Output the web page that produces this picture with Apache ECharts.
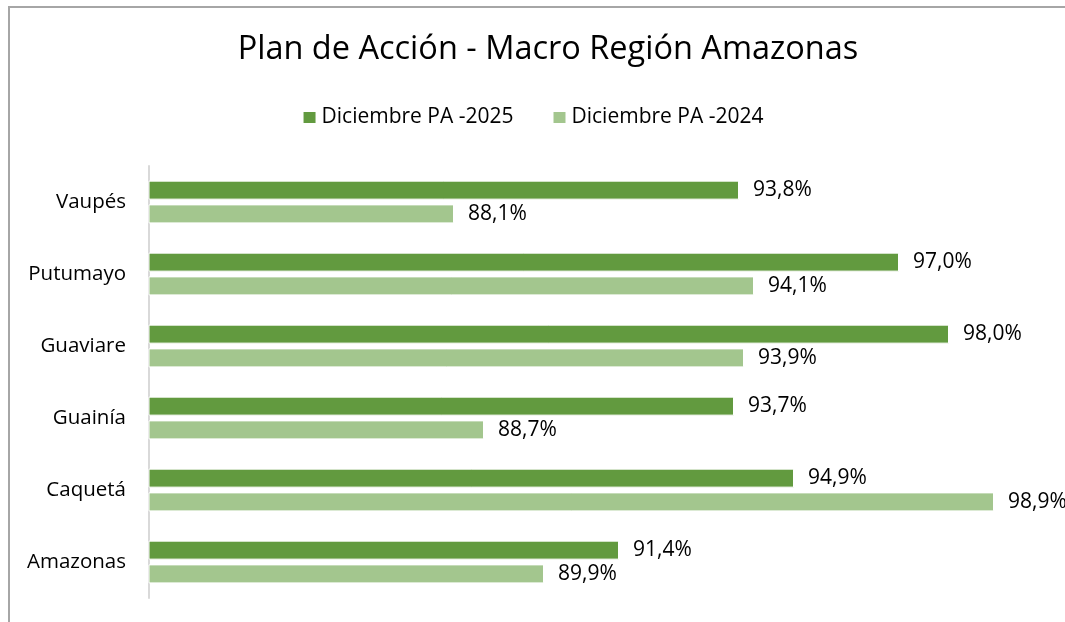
<!DOCTYPE html>
<html>
<head>
<meta charset="utf-8">
<script src="https://cdn.jsdelivr.net/npm/echarts@6/dist/echarts.min.js"></script>
<style>
  html, body { margin: 0; padding: 0; background: #fff; }
  #chart { width: 1065px; height: 622px; }
</style>
</head>
<body>
<div id="chart"></div>
<script>
// regiones (de abajo hacia arriba, como las dibuja el eje de categorías)
const regiones = ["Amazonas", "Caquetá", "Guainía", "Guaviare", "Putumayo", "Vaupés"];
const pa2025 = [91.4, 94.9, 93.7, 98.0, 97.0, 93.8];
const pa2024 = [89.9, 98.9, 88.7, 93.9, 94.1, 88.1];

const fuente = "Open Sans";
const chart = echarts.init(document.getElementById("chart"));

const etiqueta = {
  show: true,
  position: "right",
  distance: 14,
  color: "#000",
  fontFamily: fuente,
  fontSize: 21,
  formatter: (p) => p.value.toFixed(1).replace(".", ",") + "%",
};

chart.setOption({
  animation: false,
  textStyle: { fontFamily: fuente },
  title: {
    text: "Plan de Acción - Macro Región Amazonas",
    left: 543,
    textAlign: "center",
    top: 28,
    textStyle: { fontFamily: fuente, fontSize: 32.5, fontWeight: "normal", color: "#000" },
  },
  legend: {
    data: ["Diciembre PA -2025", "Diciembre PA -2024"],
    left: "center",
    top: 102,
    itemWidth: 14,
    itemHeight: 13,
    itemGap: 38,
    icon: "rect",
    textStyle: { fontFamily: fuente, fontSize: 21, color: "#000" },
  },
  graphic: [
    {
      type: "rect",
      shape: { x: 9, y: 7, width: 1100, height: 700 },
      style: { fill: "none", stroke: "#a6a6a6", lineWidth: 2 },
      silent: true,
    },
  ],
  grid: { left: 149, right: 16, top: 166, bottom: 24 },
  xAxis: {
    type: "value",
    min: 82,
    max: 100,
    show: false,
  },
  yAxis: {
    type: "category",
    data: regiones,
    axisLine: { show: true, lineStyle: { color: "#d9d9d9", width: 2 } },
    axisTick: { show: false },
    axisLabel: { color: "#000", fontFamily: fuente, fontSize: 20.5, margin: 23 },
  },
  series: [
    {
      name: "Diciembre PA -2025",
      type: "bar",
      data: pa2025,
      barWidth: 19,
      barGap: "25%",
      itemStyle: { color: "#629a3f", borderColor: "#fff", borderWidth: 1 },
      label: etiqueta,
    },
    {
      name: "Diciembre PA -2024",
      type: "bar",
      data: pa2024,
      barWidth: 19,
      barGap: "25%",
      itemStyle: { color: "#a3c68e", borderColor: "#fff", borderWidth: 1 },
      label: etiqueta,
    },
  ],
});
</script>
</body>
</html>
